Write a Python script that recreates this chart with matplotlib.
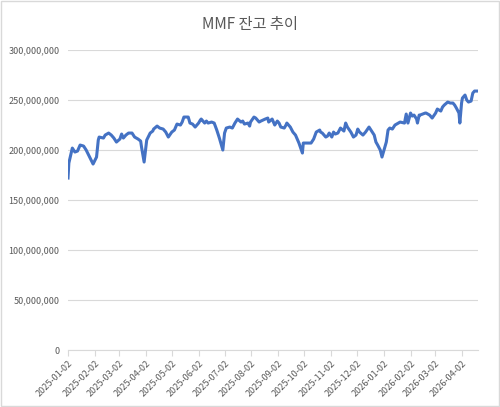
import matplotlib
matplotlib.use("Agg")
import matplotlib.pyplot as plt
import matplotlib.dates as mdates
import matplotlib.ticker as mticker
import pandas as pd

plt.rcParams['font.family'] = ['Noto Sans CJK KR', 'DejaVu Sans']

title = "MMF 잔고 추이"

# 날짜
dates = [
    "2025-01-02", "2025-01-03", "2025-01-07", "2025-01-10", "2025-01-13", "2025-01-16",
    "2025-01-20", "2025-01-23", "2025-01-27", "2025-01-31", "2025-02-04", "2025-02-06",
    "2025-02-07", "2025-02-12", "2025-02-14", "2025-02-18", "2025-02-21", "2025-02-24",
    "2025-02-27", "2025-03-03", "2025-03-05", "2025-03-07", "2025-03-10", "2025-03-13",
    "2025-03-17", "2025-03-20", "2025-03-24", "2025-03-27", "2025-03-28", "2025-03-31",
    "2025-04-03", "2025-04-07", "2025-04-10", "2025-04-11", "2025-04-15", "2025-04-18",
    "2025-04-22", "2025-04-25", "2025-04-28", "2025-05-02", "2025-05-05", "2025-05-08",
    "2025-05-12", "2025-05-14", "2025-05-16", "2025-05-21", "2025-05-23", "2025-05-26",
    "2025-05-29", "2025-06-02", "2025-06-04", "2025-06-05", "2025-06-09", "2025-06-11",
    "2025-06-13", "2025-06-17", "2025-06-20", "2025-06-23", "2025-06-26", "2025-06-30",
    "2025-07-02", "2025-07-04", "2025-07-08", "2025-07-11", "2025-07-14", "2025-07-17",
    "2025-07-21", "2025-07-23", "2025-07-25", "2025-07-29", "2025-07-31", "2025-08-01",
    "2025-08-05", "2025-08-07", "2025-08-11", "2025-08-13", "2025-08-18", "2025-08-21",
    "2025-08-22", "2025-08-26", "2025-08-29", "2025-09-01", "2025-09-03", "2025-09-05",
    "2025-09-09", "2025-09-11", "2025-09-12", "2025-09-16", "2025-09-19", "2025-09-22",
    "2025-09-24", "2025-09-26", "2025-09-30", "2025-10-01", "2025-10-10", "2025-10-13",
    "2025-10-16", "2025-10-20", "2025-10-21", "2025-10-23", "2025-10-27", "2025-10-29",
    "2025-10-31", "2025-11-03", "2025-11-05", "2025-11-07", "2025-11-10", "2025-11-13",
    "2025-11-17", "2025-11-19", "2025-11-21", "2025-11-25", "2025-11-28", "2025-12-01",
    "2025-12-03", "2025-12-05", "2025-12-09", "2025-12-12", "2025-12-16", "2025-12-19",
    "2025-12-22", "2025-12-24", "2025-12-26", "2025-12-29", "2025-12-31", "2026-01-05",
    "2026-01-07", "2026-01-09", "2026-01-12", "2026-01-15", "2026-01-19", "2026-01-21",
    "2026-01-26", "2026-01-28", "2026-01-30", "2026-02-02", "2026-02-04", "2026-02-06",
    "2026-02-09", "2026-02-10", "2026-02-12", "2026-02-13", "2026-02-19", "2026-02-20",
    "2026-02-24", "2026-02-27", "2026-03-03", "2026-03-05", "2026-03-09", "2026-03-11",
    "2026-03-13", "2026-03-17", "2026-03-20", "2026-03-23", "2026-03-25", "2026-03-27",
    "2026-03-30", "2026-03-31", "2026-04-02", "2026-04-03", "2026-04-06", "2026-04-08",
    "2026-04-10", "2026-04-13", "2026-04-15", "2026-04-17", "2026-04-21",
]

# 잔고 (백만 단위)
balance_m = [
    172, 187, 202, 198, 199, 205,
    204, 200, 193, 186, 193, 210,
    213, 212, 215, 217, 215, 212,
    208, 211, 216, 212, 215, 217,
    217, 213, 211, 209, 203, 188,
    210, 217, 219, 221, 224, 222,
    221, 218, 213, 218, 220, 226,
    225, 228, 233, 233, 227, 226,
    223, 227, 230, 231, 227, 229,
    227, 228, 227, 220, 212, 200,
    217, 222, 223, 222, 227, 231,
    228, 229, 226, 227, 224, 228,
    233, 232, 228, 229, 231, 232,
    228, 231, 225, 229, 227, 223,
    222, 225, 227, 223, 218, 215,
    211, 207, 197, 207, 207, 211,
    218, 220, 218, 217, 213, 214,
    217, 213, 218, 216, 217, 222,
    219, 227, 223, 218, 213, 215,
    221, 218, 215, 218, 223, 219,
    215, 208, 205, 200, 193, 208,
    220, 222, 221, 225, 227, 228,
    227, 236, 227, 237, 234, 235,
    231, 227, 235, 235, 237, 237,
    235, 232, 237, 241, 239, 243,
    245, 248, 247, 247, 245, 242,
    237, 227, 247, 252, 255, 250,
    248, 249, 257, 259, 259,
]

x = pd.to_datetime(dates)
y = [v * 1_000_000 for v in balance_m]

fig = plt.figure(figsize=(5.0, 4.07), dpi=100)
ax = fig.add_axes([0.136, 0.14, 0.82, 0.737])

ax.plot(x, y, color='#4472C4', linewidth=2.2, solid_joinstyle='round')

ax.set_ylim(0, 300_000_000)
ax.set_xlim(x[0], x[-1])
ax.yaxis.set_major_locator(mticker.MultipleLocator(50_000_000))
ax.yaxis.set_major_formatter(mticker.StrMethodFormatter('{x:,.0f}'))

ax.xaxis.set_major_locator(mdates.MonthLocator(bymonthday=2))
ax.xaxis.set_major_formatter(mdates.DateFormatter('%Y-%m-%d'))
for lab in ax.get_xticklabels():
    lab.set_rotation(45)
    lab.set_ha('right')
    lab.set_rotation_mode('anchor')

ax.grid(axis='y', color='#D9D9D9', linewidth=0.8)
ax.set_axisbelow(True)
for s in ['top', 'right', 'left']:
    ax.spines[s].set_visible(False)
ax.spines['bottom'].set_color('#D9D9D9')
ax.tick_params(axis='y', length=0, labelsize=6.5, labelcolor='#595959', pad=6)
ax.tick_params(axis='x', length=4, color='#D9D9D9', labelsize=6.5, labelcolor='#595959', pad=2)

fig.text(0.5, 1 - 25 / 407, title, ha='center', va='center', fontsize=11, color='#595959')

# 차트 테두리
fig.patches.append(plt.Rectangle((0.002, 0.002), 0.996, 0.996, transform=fig.transFigure,
                                 fill=False, edgecolor='#D9D9D9', linewidth=1))

fig.savefig('out.png', dpi=100)
